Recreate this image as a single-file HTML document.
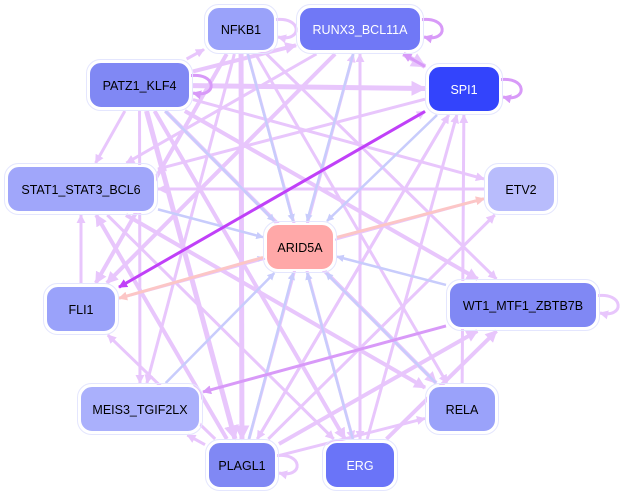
<!DOCTYPE html>
<html><head><meta charset="utf-8"><style>
html,body{margin:0;padding:0;background:#fff;width:622px;height:498px;overflow:hidden}
svg text{font-family:"Liberation Sans",sans-serif;font-size:12.5px}
</style></head><body>
<svg id="s" width="622" height="498" viewBox="0 0 622 498" xmlns="http://www.w3.org/2000/svg">
<defs></defs>
<g id="e"></g><g id="n"></g>
</svg>
<script>
var N={
NFKB1:[207,7,68,44,"#9aa2fa","#000"],
RUNX3_BCL11A:[299,7,122,44,"#7078f6","#fff"],
SPI1:[428,66,72,46,"#3344fc","#fff"],
PATZ1_KLF4:[89,62,101,46,"#8088f4","#000"],
STAT1_STAT3_BCL6:[7,166,148,46,"#a0a6fa","#000"],
ETV2:[487,166,68,46,"#b8bcfc","#000"],
ARID5A:[266,224,68,46,"#ffa8a8","#000"],
FLI1:[46,286,70,46,"#9aa2fa","#000"],
WT1_MTF1_ZBTB7B:[449,282,148,46,"#8088f4","#000"],
MEIS3_TGIF2LX:[80,386,120,46,"#aab0fc","#000"],
RELA:[428,386,68,46,"#9aa2fa","#000"],
PLAGL1:[208,442,68,46,"#8088f4","#000"],
ERG:[325,442,70,46,"#6a74f8","#fff"]};
var L="#e8c6fc",B="#c8ccfc",P="#fcc6c6",M="#d89af8",D="#c040f8";
var E=[
["PATZ1_KLF4","SPI1",L,5],["PATZ1_KLF4","RUNX3_BCL11A",L,4],["RUNX3_BCL11A","SPI1",L,5],["PATZ1_KLF4","NFKB1",L,3],["PATZ1_KLF4","STAT1_STAT3_BCL6",L,3],
["PATZ1_KLF4","ETV2",L,3],["PATZ1_KLF4","WT1_MTF1_ZBTB7B",L,4],["PATZ1_KLF4","RELA",L,4],["PATZ1_KLF4","PLAGL1",L,5],["PATZ1_KLF4","ERG",L,4],["PATZ1_KLF4","MEIS3_TGIF2LX",L,3],
["ETV2","STAT1_STAT3_BCL6",L,3],["SPI1","STAT1_STAT3_BCL6",L,3],["RUNX3_BCL11A","STAT1_STAT3_BCL6",L,3],["NFKB1","FLI1",L,4],["RUNX3_BCL11A","FLI1",L,4],
["NFKB1","WT1_MTF1_ZBTB7B",L,3],["NFKB1","PLAGL1",L,5],["NFKB1","MEIS3_TGIF2LX",L,3],["NFKB1","RELA",L,3],["NFKB1","ERG",L,3],
["ERG","RUNX3_BCL11A",L,3],["ERG","SPI1",L,3],["PLAGL1","SPI1",L,3],["PLAGL1","RUNX3_BCL11A",L,3],["PLAGL1","WT1_MTF1_ZBTB7B",L,4],["ERG","WT1_MTF1_ZBTB7B",L,4],
["PLAGL1","RELA",L,3],["PLAGL1","ETV2",L,3],["PLAGL1","FLI1",L,3],["PLAGL1","MEIS3_TGIF2LX",L,3],["FLI1","STAT1_STAT3_BCL6",L,3],["PLAGL1","STAT1_STAT3_BCL6",L,4],
["STAT1_STAT3_BCL6","RELA",L,4],["STAT1_STAT3_BCL6","ERG",L,3],["SPI1","PLAGL1",L,3],["RUNX3_BCL11A","ERG",L,3],["FLI1","SPI1",L,3],["RELA","SPI1",L,3],["FLI1","ETV2",L,2],
["NFKB1","ARID5A",B,2.5],["RUNX3_BCL11A","ARID5A",B,2.5],["SPI1","ARID5A",B,2.5],["PATZ1_KLF4","ARID5A",B,2.5],["STAT1_STAT3_BCL6","ARID5A",B,2.5],
["WT1_MTF1_ZBTB7B","ARID5A",B,2.5],["RELA","ARID5A",B,2.5],["ERG","ARID5A",B,2.5],["PLAGL1","ARID5A",B,2.5],["MEIS3_TGIF2LX","ARID5A",B,2.5],["FLI1","ARID5A",B,2],
["ARID5A","ETV2",P,3],["ARID5A","FLI1",P,3],["WT1_MTF1_ZBTB7B","MEIS3_TGIF2LX",M,3],["SPI1","RUNX3_BCL11A",M,3],
["SPI1","FLI1",D,3]
];
var ns="http://www.w3.org/2000/svg",s=document.getElementById("s"),eg=document.getElementById("e"),ng=document.getElementById("n"),defs=s.querySelector("defs");
function c(k){var n=N[k];return[n[0]+n[2]/2,n[1]+n[3]/2];}
function clip(k,dx,dy){var n=N[k],hw=n[2]/2+3,hh=n[3]/2+3;var t=Math.min(Math.abs(hw/(dx||1e-9)),Math.abs(hh/(dy||1e-9)));return t;}
var mk={};
function marker(col){if(mk[col])return mk[col];var id="m"+Object.keys(mk).length;var m=document.createElementNS(ns,"marker");
m.setAttribute("id",id);m.setAttribute("viewBox","0 0 10 10");m.setAttribute("refX","9");m.setAttribute("refY","5");
m.setAttribute("markerWidth","3");m.setAttribute("markerHeight","3");m.setAttribute("orient","auto");m.setAttribute("markerUnits","strokeWidth");
var p=document.createElementNS(ns,"path");p.setAttribute("d","M0,0L10,5L0,10z");p.setAttribute("fill",col);m.appendChild(p);defs.appendChild(m);mk[col]=id;return id;}
E.forEach(function(e){var a=c(e[0]),b=c(e[1]),dx=b[0]-a[0],dy=b[1]-a[1];
var t1=clip(e[0],dx,dy),t2=clip(e[1],dx,dy);
var l=document.createElementNS(ns,"line");l.setAttribute("x1",a[0]+dx*t1);l.setAttribute("y1",a[1]+dy*t1);
l.setAttribute("x2",b[0]-dx*t2);l.setAttribute("y2",b[1]-dy*t2);l.setAttribute("stroke",e[2]);l.setAttribute("stroke-width",e[3]);
l.setAttribute("marker-end","url(#"+marker(e[2])+")");eg.appendChild(l);});
[["NFKB1",L],["RUNX3_BCL11A",M],["SPI1",M],["PATZ1_KLF4",M],["WT1_MTF1_ZBTB7B",L],["PLAGL1",L]].forEach(function(q){var n=N[q[0]],x=n[0]+n[2],y=n[1]+n[3]/2;
var p=document.createElementNS(ns,"path");p.setAttribute("d","M"+(x-2)+","+(y-9)+" C"+(x+28)+","+(y-14)+" "+(x+28)+","+(y+14)+" "+(x+3)+","+(y+8));
p.setAttribute("fill","none");p.setAttribute("stroke",q[1]);p.setAttribute("stroke-width",3);p.setAttribute("marker-end","url(#"+marker(q[1])+")");eg.appendChild(p);});
for(var k in N){var n=N[k];var r=document.createElementNS(ns,"rect");r.setAttribute("x",n[0]);r.setAttribute("y",n[1]);r.setAttribute("width",n[2]);r.setAttribute("height",n[3]);
r.setAttribute("rx",12);r.setAttribute("fill",n[4]);r.setAttribute("stroke","#fff");r.setAttribute("stroke-width",2);ng.appendChild(r);
var r2=r.cloneNode();r2.setAttribute("x",n[0]-2.5);r2.setAttribute("y",n[1]-2.5);r2.setAttribute("width",n[2]+5);r2.setAttribute("height",n[3]+5);r2.setAttribute("rx",14);
r2.setAttribute("fill","none");r2.setAttribute("stroke","#e4e6fe");r2.setAttribute("stroke-width",1);ng.appendChild(r2);
var t=document.createElementNS(ns,"text");t.setAttribute("x",n[0]+n[2]/2);t.setAttribute("y",n[1]+n[3]/2+5);t.setAttribute("text-anchor","middle");t.setAttribute("fill",n[5]);t.textContent=k;ng.appendChild(t);}
</script>
</body></html>
